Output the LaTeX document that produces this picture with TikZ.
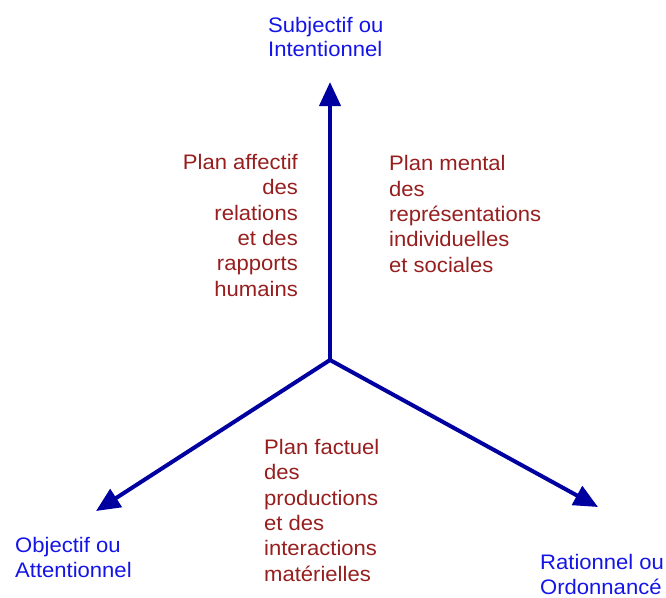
\documentclass[tikz,border=0pt]{standalone}
\usepackage{fontspec}
\setmainfont[FakeStretch=1.05]{Liberation Sans}
\usetikzlibrary{arrows.meta}
\definecolor{axisblue}{RGB}{0,0,160}
\definecolor{labelblue}{RGB}{20,20,230}
\definecolor{planred}{RGB}{150,30,30}
\tikzset{
  axis/.style={draw=axisblue, line width=4pt, -{Triangle[length=24pt,width=21pt]}},
  pole/.style={text=labelblue, inner sep=0pt, align=left, font=\fontsize{21}{24.5}\selectfont},
  plan/.style={text=planred, inner sep=0pt, font=\fontsize{21}{25.3}\selectfont},
}
\begin{document}
\begin{tikzpicture}[x=1pt,y=-1pt]
\useasboundingbox (0,0) rectangle (666,597);
\coordinate (c) at (330,360);
\coordinate (top) at (330,82);
\coordinate (left) at (96,511);
\coordinate (right) at (598,507);
\draw[axis] (c) -- (top);
\draw[axis] (c) -- (left);
\draw[axis] (c) -- (right);
% base anchor = baseline of the last line
\node[pole, anchor=base west] (subj) at (268,56.5) {Subjectif ou\\Intentionnel};
\node[pole, anchor=base west] (obj) at (15,577) {Objectif ou\\Attentionnel};
\node[pole, anchor=base west] (rat) at (540,594) {Rationnel ou\\Ordonnancé};
\node[plan, align=right, anchor=base east] (aff) at (298,296) {Plan affectif\\des\\relations\\et des\\rapports\\humains};
\node[plan, align=left, anchor=base west] (men) at (389,272) {Plan mental\\des\\représentations\\individuelles\\et sociales};
\node[plan, align=left, anchor=base west] (fac) at (264,581) {Plan factuel\\des\\productions\\et des\\interactions\\matérielles};
\end{tikzpicture}
\end{document}
